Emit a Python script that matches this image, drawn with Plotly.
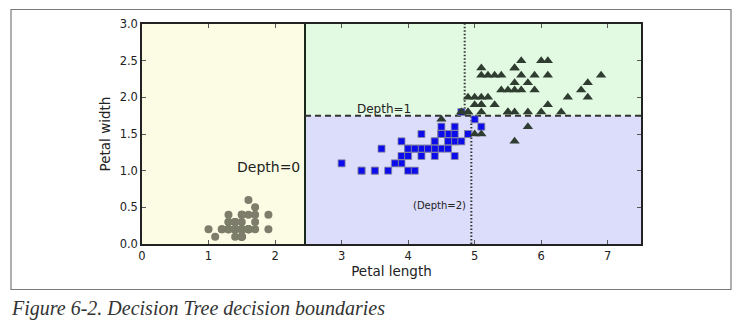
import plotly.graph_objects as go

# Iris petal measurements (length, width)
setosa_len = [1.4,1.4,1.3,1.5,1.4,1.7,1.4,1.5,1.4,1.5,1.5,1.6,1.4,1.1,1.2,1.5,1.3,1.4,1.7,1.5,
              1.7,1.5,1.0,1.7,1.9,1.6,1.6,1.5,1.4,1.6,1.6,1.5,1.5,1.4,1.5,1.2,1.3,1.5,1.3,1.5,
              1.3,1.3,1.3,1.6,1.9,1.4,1.6,1.4,1.5,1.4]
setosa_wid = [0.2,0.2,0.2,0.2,0.2,0.4,0.3,0.2,0.2,0.1,0.2,0.2,0.1,0.1,0.2,0.4,0.4,0.3,0.3,0.3,
              0.2,0.4,0.2,0.5,0.2,0.2,0.4,0.2,0.2,0.2,0.2,0.4,0.1,0.2,0.1,0.2,0.2,0.1,0.2,0.2,
              0.3,0.3,0.2,0.6,0.4,0.3,0.2,0.2,0.2,0.2]
versi_len = [4.7,4.5,4.9,4.0,4.6,4.5,4.7,3.3,4.6,3.9,3.5,4.2,4.0,4.7,3.6,4.4,4.5,4.1,4.5,3.9,
             4.8,4.0,4.9,4.7,4.3,4.4,4.8,5.0,4.5,3.5,3.8,3.7,3.9,5.1,4.5,4.5,4.7,4.4,4.1,4.0,
             4.4,4.6,4.0,3.3,4.2,4.2,4.2,4.3,3.0,4.1]
versi_wid = [1.4,1.5,1.5,1.3,1.5,1.3,1.6,1.0,1.3,1.4,1.0,1.5,1.0,1.4,1.3,1.4,1.5,1.0,1.5,1.1,
             1.8,1.3,1.5,1.2,1.3,1.4,1.4,1.7,1.5,1.0,1.1,1.0,1.2,1.6,1.5,1.6,1.5,1.3,1.3,1.3,
             1.2,1.4,1.2,1.0,1.3,1.2,1.3,1.3,1.1,1.3]
virg_len = [6.0,5.1,5.9,5.6,5.8,6.6,4.5,6.3,5.8,6.1,5.1,5.3,5.5,5.0,5.1,5.3,5.5,6.7,6.9,5.0,
            5.7,4.9,6.7,4.9,5.7,6.0,4.8,4.9,5.6,5.8,6.1,6.4,5.6,5.1,5.6,6.1,5.6,5.5,4.8,5.4,
            5.6,5.1,5.1,5.9,5.7,5.2,5.0,5.2,5.4,5.1]
virg_wid = [2.5,1.9,2.1,1.8,2.2,2.1,1.7,1.8,1.8,2.5,2.0,1.9,2.1,2.0,2.4,2.3,1.8,2.2,2.3,1.5,
            2.3,2.0,2.0,1.8,2.1,1.8,1.8,1.8,2.1,1.6,1.9,2.0,2.2,1.5,1.4,2.3,2.4,1.8,1.8,2.1,
            2.4,2.3,1.9,2.3,2.5,2.3,1.9,2.0,2.3,1.8]

# Decision tree thresholds
split_depth0 = 2.45
split_depth1 = 1.75
split_depth2_low = 4.95
split_depth2_high = 4.85
x_range = [0, 7.5]
y_range = [0, 3.0]
x_ticks = [0, 1, 2, 3, 4, 5, 6, 7]
y_ticks = [0.0, 0.5, 1.0, 1.5, 2.0, 2.5, 3.0]

fig = go.Figure()

# decision regions
fig.add_shape(type="rect", x0=x_range[0], x1=split_depth0, y0=y_range[0], y1=y_range[1],
              fillcolor="#fcfce5", line_width=0, layer="below")
fig.add_shape(type="rect", x0=split_depth0, x1=x_range[1], y0=split_depth1, y1=y_range[1],
              fillcolor="#e2f9e2", line_width=0, layer="below")
fig.add_shape(type="rect", x0=split_depth0, x1=x_range[1], y0=y_range[0], y1=split_depth1,
              fillcolor="#dcdcfb", line_width=0, layer="below")

# boundaries
fig.add_trace(go.Scatter(x=[split_depth0, split_depth0], y=y_range, mode="lines",
                         line=dict(color="#1a2a1a", width=2), hoverinfo="skip", showlegend=False))
fig.add_trace(go.Scatter(x=[split_depth0, x_range[1]], y=[split_depth1, split_depth1], mode="lines",
                         line=dict(color="#333", width=2, dash="6px,4px"), hoverinfo="skip", showlegend=False))
fig.add_trace(go.Scatter(x=[split_depth2_low, split_depth2_low], y=[y_range[0], split_depth1], mode="lines",
                         line=dict(color="#333", width=2, dash="1.5px,2px"), hoverinfo="skip", showlegend=False))
fig.add_trace(go.Scatter(x=[split_depth2_high, split_depth2_high], y=[split_depth1, y_range[1]], mode="lines",
                         line=dict(color="#333", width=2, dash="1.5px,2px"), hoverinfo="skip", showlegend=False))

# data points
fig.add_trace(go.Scatter(x=setosa_len, y=setosa_wid, mode="markers", name="Iris-Setosa",
                         marker=dict(symbol="circle", size=8, color="#7d7d6b", line=dict(width=0))))
fig.add_trace(go.Scatter(x=versi_len, y=versi_wid, mode="markers", name="Iris-Versicolor",
                         marker=dict(symbol="square", size=7, color="#0b0bec",
                                     line=dict(width=0.8, color="#8a8a9a"))))
fig.add_trace(go.Scatter(x=virg_len, y=virg_wid, mode="markers", name="Iris-Virginica",
                         marker=dict(symbol="triangle-up", size=9, color="#2f3d31", line=dict(width=0))))

font_main = "DejaVu Sans"
fig.add_annotation(x=1.40, y=1.0, text="Depth=0", showarrow=False, xanchor="left", yanchor="bottom",
                   font=dict(family=font_main, size=14, color="#222"), yshift=-6)
fig.add_annotation(x=3.2, y=1.80, text="Depth=1", showarrow=False, xanchor="left", yanchor="bottom",
                   font=dict(family=font_main, size=12, color="#222"), yshift=-6)
fig.add_annotation(x=4.05, y=0.5, text="(Depth=2)", showarrow=False, xanchor="left", yanchor="bottom",
                   font=dict(family=font_main, size=10, color="#222"), yshift=-6)

# outer frame and caption
L, R, T, B = 142, 99, 24, 81
W, H = 740, 325
pw, ph = W - L - R, H - T - B
def px(xp): return (xp - L) / pw
def py(yp): return (H - B - yp) / ph
fig.add_shape(type="rect", xref="paper", yref="paper",
              x0=px(11), x1=px(731), y0=py(289.5), y1=py(9.5),
              line=dict(color="#7a7a7a", width=1.2), fillcolor="rgba(0,0,0,0)", layer="below")
fig.add_annotation(xref="paper", yref="paper", x=px(9), y=py(308), xanchor="left", yanchor="middle",
                   text="<i>Figure 6-2. Decision Tree decision boundaries</i>", showarrow=False,
                   font=dict(family="Liberation Serif", size=20, color="#333"))

axis_common = dict(showline=True, linecolor="#222", linewidth=1.5, mirror="allticks",
                   ticks="inside", ticklen=4, tickcolor="#555", showgrid=False, zeroline=False,
                   tickfont=dict(family=font_main, size=11.5, color="#222"))
fig.update_xaxes(range=x_range, tickvals=x_ticks, ticktext=[str(v) for v in x_ticks],
                 title=dict(text="Petal length", font=dict(family=font_main, size=13.5, color="#222"), standoff=4),
                 **axis_common)
fig.update_yaxes(range=y_range, tickvals=y_ticks, ticktext=[f"{v:.1f}" for v in y_ticks],
                 title=dict(text="Petal width", font=dict(family=font_main, size=13.5, color="#222"), standoff=6),
                 **axis_common)

fig.update_layout(width=W, height=H, margin=dict(l=L, r=R, t=T, b=B, pad=0),
                  paper_bgcolor="white", plot_bgcolor="white", showlegend=False)

fig.write_html("out.html")
